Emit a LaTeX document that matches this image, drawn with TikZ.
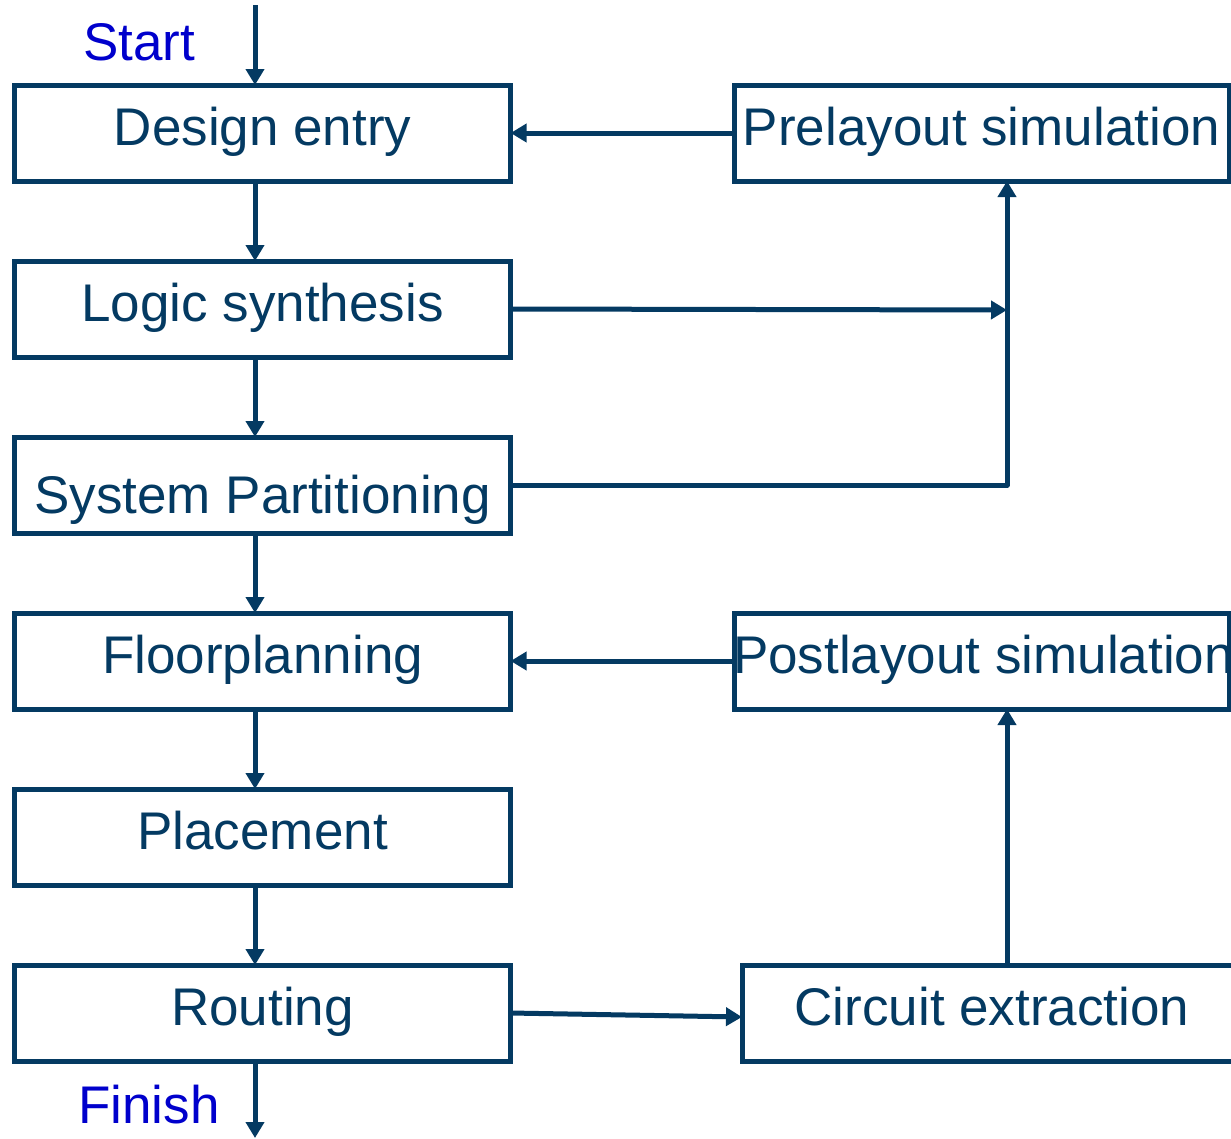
\documentclass[tikz,border=0pt]{standalone}
\usepackage{fontspec}
\setmainfont{Liberation Sans}
\usetikzlibrary{arrows.meta}
\definecolor{flowblue}{RGB}{4,58,98}
\definecolor{termblue}{RGB}{0,0,204}
\begin{document}
\begin{tikzpicture}[x=1pt,y=1pt,
  stage/.style={draw=flowblue, line width=5pt, fill=white, inner sep=0pt, outer sep=0pt,
    minimum width=496pt, minimum height=96pt, text=flowblue,
    text height=38pt, text depth=13pt,
    font=\fontsize{53}{60}\selectfont},
  caption/.style={text=flowblue, inner sep=0pt, text height=38pt, text depth=13pt,
    font=\fontsize{53}{60}\selectfont},
  term/.style={text=termblue, inner sep=0pt, anchor=base west, font=\fontsize{53}{60}\selectfont},
  flow/.style={draw=flowblue, line width=5pt, -{Triangle[length=16pt,width=18pt]}},
  wire/.style={draw=flowblue, line width=5pt, line join=round}]
\useasboundingbox (0,0) rectangle (1231,-1138);

% main design flow (left column)
\node[stage] (de) at (262.6,-133) {Design entry};
\node[stage] (ls) at (262.6,-309) {Logic synthesis};
\node[stage] (sp) at (262.6,-485) {};
\node[caption] (sptext) at (262.6,-500.5) {System Partitioning};
\node[stage] (fp) at (262.6,-661) {Floorplanning};
\node[stage] (pl) at (262.6,-837) {Placement};
\node[stage] (rt) at (262.6,-1013) {Routing};

% verification loop (right column)
\node[stage, minimum width=495pt] (pre) at (981.5,-133) {Prelayout simulation};
\node[stage, minimum width=495pt] (post) at (981.5,-661) {};
\node[caption] (posttext) at (983.5,-661) {Postlayout simulation};
\node[stage, minimum width=500pt] (ce) at (992,-1013) {Circuit extraction};

% start and finish labels
\node[term] (start) at (83,-60) {Start};
\node[term] (finish) at (78,-1123) {Finish};

\coordinate (col) at (255,0);
\coordinate (top) at (255,-5);
\coordinate (bottom) at (255,-1138);
\coordinate (bus) at (1007,-310);

% vertical flow
\draw[flow] (top) -- (top |- de.north);
\draw[flow] (de.south -| col) -- (ls.north -| col);
\draw[flow] (ls.south -| col) -- (sp.north -| col);
\draw[flow] (sp.south -| col) -- (fp.north -| col);
\draw[flow] (fp.south -| col) -- (pl.north -| col);
\draw[flow] (pl.south -| col) -- (rt.north -| col);
\draw[flow] (rt.south -| col) -- (bottom);

% feedback paths
\draw[flow] (pre.west) -- (de.east);
\draw[flow] (ls.east) -- (bus);
\draw[wire] (sp.east) -- (sp.east -| bus) -- (bus);
\draw[flow] (sp.east -| bus) -- (pre.south -| bus);
\draw[flow] (post.west) -- (fp.east);
\draw[flow] (rt.east) -- ([yshift=-4pt]ce.west);
\draw[flow] (ce.north -| bus) -- (post.south -| bus);
\end{tikzpicture}
\end{document}
